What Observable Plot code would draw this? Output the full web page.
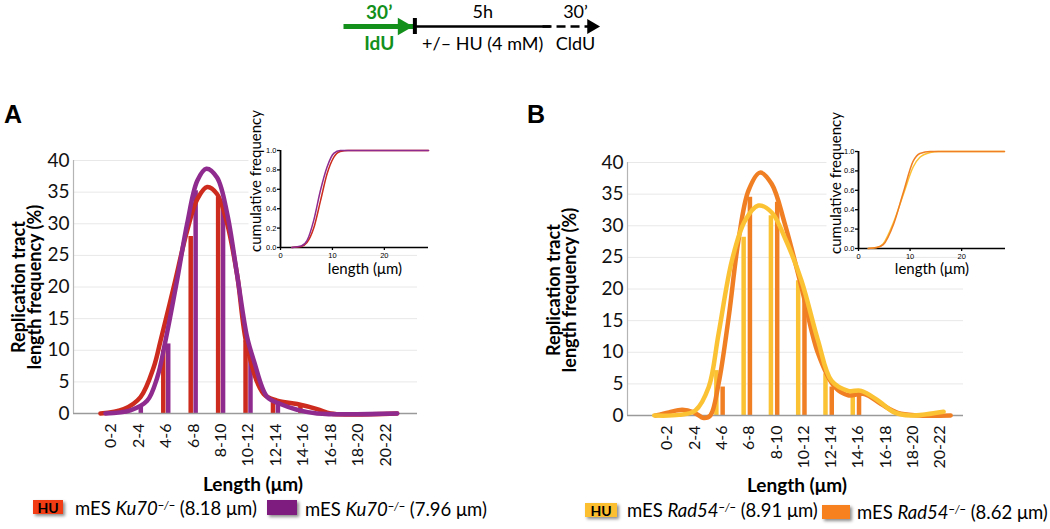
<!DOCTYPE html>
<html><head><meta charset="utf-8">
<script src="https://cdn.jsdelivr.net/npm/d3@7"></script>
<script src="https://cdn.jsdelivr.net/npm/@observablehq/plot@0.6"></script>
<style>
body{margin:0;background:#fff;}
#root{position:relative;width:1050px;height:529px;overflow:hidden;font-family:Lato,sans-serif;color:#000;}
#root > svg, .abs{position:absolute;}
.panel{font-family:"Liberation Sans",Arial,sans-serif;font-weight:bold;font-size:25px;line-height:25px;}
.ytitle{font-weight:bold;font-size:18px;line-height:16px;text-align:center;white-space:nowrap;transform:rotate(-90deg);}
.xtitle{font-weight:bold;font-size:19px;white-space:nowrap;transform:translate(-50%,-50%);}
.ititle{font-size:15px;white-space:nowrap;text-align:center;}
.leg{font-size:18.5px;white-space:nowrap;line-height:20px;}
.leg sup{font-size:11px;vertical-align:6px;line-height:0;}
.box{font-weight:bold;font-size:14px;line-height:15px;text-align:center;box-shadow:2px 2px 3px rgba(0,0,0,0.45);}
</style>
</head><body><div id="root"></div>
<script>
// ---------- data ----------
const categories = ["0-2","2-4","4-6","6-8","8-10","10-12","12-14","14-16","16-18","18-20","20-22"];
const freqTicks = [0,5,10,15,20,25,30,35,40];
const cumTicks = [0,0.2,0.4,0.6,0.8,1.0];
const lengthTicks = [0,10,20];

// Panel A: Ku70-/- histogram bars (%)
const ku70HUBars = [0, 0, 10, 28, 34.2, 11.5, 2.3, 1.3, 0, 0, 0];
const ku70Bars   = [0, 1.0, 11, 35.2, 33.0, 8.4, 1.6, 0, 0, 0, 0];
// Panel A smoothed fit curves (position along category axis, frequency %)
const ku70HUFitX = [-0.39, 0.46, 1.07, 1.55, 1.80, 2.28, 2.77, 3.14, 3.50, 3.86, 4.23, 4.59, 4.96, 5.56, 6.05, 6.78, 7.51, 8.0, 8.72, 10.43];
const ku70HUFitY = [0, 0.7, 2.6, 7.3, 11.5, 20, 28.9, 33.9, 35.8, 34.7, 30, 22, 10.5, 3.1, 2.05, 1.5, 0.7, 0, -0.15, 0];
const ku70FitX = [-0.21, 0.70, 1.31, 1.68, 1.98, 2.40, 2.77, 3.14, 3.47, 3.86, 4.23, 4.59, 4.96, 5.20, 5.69, 6.17, 6.78, 7.51, 10.43];
const ku70FitY = [0, 0.5, 2, 5.7, 11.5, 21, 30, 36.8, 38.7, 37.3, 31.6, 22, 12, 8.4, 2.6, 1.5, 0.6, 0, 0];

// Panel B: Rad54-/- histogram bars (%)
const rad54HUBars = [0, 0, 7.1, 28.2, 31.6, 21.3, 6.6, 3.6, 0, 0, 0];
const rad54Bars   = [0, 0, 4.5, 34.5, 33.7, 18.7, 4.5, 3.3, 0, 0, 0];
const rad54HUFitX = [-0.48, 0.43, 1.03, 1.52, 1.88, 2.37, 2.85, 3.34, 3.83, 4.31, 4.92, 5.53, 6.02, 6.63, 7.11, 7.72, 8.32, 8.93, 9.5, 10.13];
const rad54HUFitY = [0, 0.1, 0.8, 4.5, 12.9, 24.5, 30.8, 33.2, 32.1, 28.1, 21.3, 11.8, 5.5, 3.9, 3.9, 2.4, 0.5, 0, 0.2, 0.6];
const rad54FitX = [-0.43, 0.06, 0.55, 0.97, 1.34, 1.58, 1.88, 2.25, 2.61, 2.98, 3.40, 3.83, 4.31, 4.92, 5.53, 6.14, 6.63, 7.23, 7.84, 8.45, 9.18, 10.39];
const rad54FitY = [0, 0.5, 0.9, 0.5, -0.4, 0, 5, 15.5, 27.7, 35.6, 38.4, 36.6, 30.3, 20.3, 9.8, 4.5, 3.2, 3.4, 1.8, 0.4, 0, 0];

// Insets: cumulative frequency vs length (µm)
const ku70HUCumL = [2.2, 4, 5.1, 6.4, 7.7, 8.97, 10.25, 11.5, 13, 28.5];
const ku70HUCumF = [0, 0.01, 0.05, 0.2, 0.48, 0.76, 0.93, 0.99, 1.0, 1.0];
const ku70CumL = [2.2, 4, 5.1, 6.4, 7.7, 8.97, 10.25, 11.5, 13, 28.5];
const ku70CumF = [0, 0.015, 0.07, 0.28, 0.59, 0.83, 0.97, 1.0, 1.0, 1.0];
const rad54HUCumL = [1.9, 3.5, 4.8, 6.8, 8.7, 10.6, 11.9, 13.9, 15.5, 28.3];
const rad54HUCumF = [0, 0.01, 0.05, 0.27, 0.56, 0.84, 0.94, 0.99, 1.0, 1.0];
const rad54CumL = [1.9, 3.5, 4.8, 6.8, 8.7, 10.6, 11.9, 13.9, 15.5, 28.3];
const rad54CumF = [0, 0.01, 0.04, 0.25, 0.58, 0.9, 0.98, 1.0, 1.0, 1.0];

// Timeline schematic
const stageTop = ["30\u2019", "5h", "30\u2019"];
const stageBottom = ["IdU", "+/\u2013 HU (4 mM)", "CldU"];
const stageBounds = [0, 1, 2.9, 3.6];

// ---------- colours ----------
const RED = "#cc2b1d", PURPLE = "#8f2b8f", YELLOW = "#fbc234", ORANGE = "#f07f24", GREEN = "#13901c";

const root = document.getElementById("root");
function place(el, left, top) { el.style.left = left + "px"; el.style.top = top + "px"; root.appendChild(el); return el; }
function html(cls, content, left, top, extra) {
  const d = document.createElement("div"); d.className = "abs " + cls; d.innerHTML = content;
  if (extra) Object.assign(d.style, extra);
  return place(d, left, top);
}
const zip = (xs, ys) => xs.map((x, i) => ({x, y: ys[i]}));
const barRows = vals => vals.map((v, i) => ({i, v})).filter(d => d.v > 0);

function mainPanel(o) {
  return Plot.plot({
    width: 430, height: 345, marginLeft: 73, marginRight: o.marginRight, marginTop: 20, marginBottom: 72,
    style: {fontFamily: "Lato, sans-serif", background: "transparent", overflow: "visible", color: "#111"},
    x: {domain: o.xDomain},
    y: {domain: [0, 40]},
    marks: [
      Plot.gridY({ticks: freqTicks.slice(1), stroke: "#e8e8e8", strokeOpacity: 1}),
      Plot.ruleX([o.xDomain[0]], {stroke: "#b4b4b4", strokeWidth: 1.2}),
      Plot.axisY({ticks: freqTicks, tickSize: 0, tickPadding: 4, fontSize: 19, label: null}),
      Plot.axisX({ticks: d3.range(categories.length), tickFormat: i => categories[i], tickRotate: -90, tickSize: 0, tickPadding: 10, fontSize: 16, label: null}),
      Plot.ruleX(barRows(o.hu), {x: d => d.i + o.huOffset, y1: 0, y2: "v", stroke: o.huColor, strokeWidth: 4.5}),
      Plot.ruleX(barRows(o.ctrl), {x: d => d.i + o.ctrlOffset, y1: 0, y2: "v", stroke: o.ctrlColor, strokeWidth: 4.5}),
      Plot.ruleY([0], {stroke: "#9a9a9a", strokeWidth: 1.3}),
      ...o.lines.map(l => Plot.line(zip(l.x, l.y), {x: "x", y: "y", stroke: l.color, strokeWidth: 4.5, curve: "catmull-rom", strokeLinecap: "round"}))
    ]
  });
}

function insetPanel(o) {
  return Plot.plot({
    width: 210, height: 185, marginLeft: 50, marginRight: o.marginRight, marginTop: 50, marginBottom: 38,
    style: {fontFamily: "'Liberation Sans', Arial, sans-serif", background: "transparent", overflow: "visible"},
    x: {domain: [0, 28.5]},
    y: {domain: [0, 1]},
    marks: [
      Plot.frame({fill: "white", stroke: "none", insetLeft: -32, insetTop: -12, insetRight: -6}),
      Plot.axisY({ticks: cumTicks, tickFormat: d3.format(".1f"), tickSize: 3, tickPadding: 1, fontSize: 7.5, label: null, strokeWidth: 1.3}),
      Plot.axisX({ticks: lengthTicks, tickSize: 3, tickPadding: 2, fontSize: 7.5, label: null, strokeWidth: 1.3}),
      Plot.ruleX([0], {stroke: "#000", strokeWidth: 1.8}),
      Plot.ruleY([0], {stroke: "#000", strokeWidth: 1.5}),
      ...o.lines.map(l => Plot.line(zip(l.x, l.y), {x: "x", y: "y", stroke: l.color, strokeWidth: 1.5, curve: "monotone-x"}))
    ]
  });
}

// ---------- timeline ----------
const mid = i => (stageBounds[i] + stageBounds[i + 1]) / 2;
const timeline = Plot.plot({
  width: 1050, height: 50, marginLeft: 343, marginRight: 450, marginTop: 0, marginBottom: 0,
  style: {fontFamily: "Lato, sans-serif", background: "transparent", overflow: "visible"},
  x: {domain: [stageBounds[0], stageBounds[3]], axis: null},
  y: {domain: [-1, 1], axis: null},
  marks: [
    Plot.link([null], {x1: stageBounds[0], x2: stageBounds[1], y1: 0, y2: 0, stroke: GREEN, strokeWidth: 5}),
    Plot.dot([null], {x: stageBounds[1], y: 0, symbol: "triangle", r: 6.5, rotate: 90, fill: GREEN, stroke: "none", dx: -12}),
    Plot.link([null], {x1: stageBounds[1], x2: stageBounds[2], y1: 0, y2: 0, stroke: "#000", strokeWidth: 2.5}),
    Plot.link([null], {x1: stageBounds[2], x2: stageBounds[3], y1: 0, y2: 0, stroke: "#000", strokeWidth: 2.5, strokeDasharray: "9,5", dx: -8}),
    Plot.dot([null], {x: stageBounds[3], y: 0, symbol: "triangle", r: 5.5, rotate: 90, fill: "#000", stroke: "none", dx: -9}),
    Plot.ruleX([stageBounds[1]], {y1: -0.32, y2: 0.32, stroke: "#000", strokeWidth: 4}),
    Plot.text([stageTop[0]], {x: mid(0), y: 0.56, text: d => d, fill: GREEN, fontWeight: "bold", fontSize: 19}),
    Plot.text([stageBottom[0]], {x: mid(0), y: -0.7, text: d => d, fill: GREEN, fontWeight: "bold", fontSize: 19}),
    Plot.text([1, 2], {x: i => mid(i), y: 0.56, text: i => stageTop[i], fill: "#000", fontSize: 18}),
    Plot.text([1, 2], {x: i => mid(i), y: -0.7, text: i => stageBottom[i], fill: "#000", fontSize: 18})
  ]
});
place(timeline, 0, 1);

// ---------- panel A ----------
place(mainPanel({
  hu: ku70HUBars, ctrl: ku70Bars, huColor: RED, ctrlColor: PURPLE, huOffset: -0.1, ctrlOffset: 0.08,
  xDomain: [-1.374, 11.17], marginRight: 13,
  lines: [{x: ku70HUFitX, y: ku70HUFitY, color: RED}, {x: ku70FitX, y: ku70FitY, color: PURPLE}]
}), 0, 140);
place(insetPanel({
  marginRight: 12,
  lines: [{x: ku70HUCumL, y: ku70HUCumF, color: RED}, {x: ku70CumL, y: ku70CumF, color: PURPLE}]
}), 230, 100);

// ---------- panel B ----------
place(mainPanel({
  hu: rad54HUBars, ctrl: rad54Bars, huColor: YELLOW, ctrlColor: ORANGE, huOffset: -0.2, ctrlOffset: 0.03,
  xDomain: [-1.458, 10.86], marginRight: 21,
  lines: [{x: rad54FitX, y: rad54FitY, color: ORANGE}, {x: rad54HUFitX, y: rad54HUFitY, color: YELLOW}]
}), 554, 142);
place(insetPanel({
  marginRight: 13,
  lines: [{x: rad54HUCumL, y: rad54HUCumF, color: YELLOW}, {x: rad54CumL, y: rad54CumF, color: ORANGE}]
}), 808, 101);

// ---------- text overlays ----------
html("panel", "A", 4, 102);
html("panel", "B", 527, 102);

const ytitle = "Replication tract<br>length frequency (%)";
html("ytitle", ytitle, 26 - 100, 287 - 16, {width: "200px", height: "32px"});
html("ytitle", ytitle, 561 - 100, 290 - 16, {width: "200px", height: "32px"});

html("xtitle", "Length (\u03bcm)", 253, 483);
html("xtitle", "Length (\u03bcm)", 797, 484);

function insetTitles(yCx, yCy, xCx, xCy) {
  html("ititle", "cumulative frequency", yCx - 80, yCy - 9, {width: "160px", height: "18px", transform: "rotate(-90deg)"});
  html("ititle", "length (\u03bcm)", xCx - 50, xCy - 9, {width: "100px", height: "18px"});
}
insetTitles(255, 181, 365, 268);
insetTitles(835, 183, 932, 268);

// legends
html("box", "HU", 33, 500, {width: "30px", height: "14px", background: "#f23c14"});
html("leg", "mES <i>Ku70<sup>\u2212/\u2212</sup></i> (8.18 \u03bcm)", 75, 498);
html("box", "", 267, 500, {width: "30px", height: "15px", background: "#7f1c80"});
html("leg", "mES <i>Ku70<sup>\u2212/\u2212</sup></i> (7.96 \u03bcm)", 305, 499);

html("box", "HU", 585, 503, {width: "32px", height: "14px", background: "#fbbf30"});
html("leg", "mES <i>Rad54<sup>\u2212/\u2212</sup></i> (8.91 \u03bcm)", 627, 500);
html("box", "", 822, 505, {width: "28px", height: "14px", background: "#f7801f"});
html("leg", "mES <i>Rad54<sup>\u2212/\u2212</sup></i> (8.62 \u03bcm)", 857, 502);
</script>
</body></html>
